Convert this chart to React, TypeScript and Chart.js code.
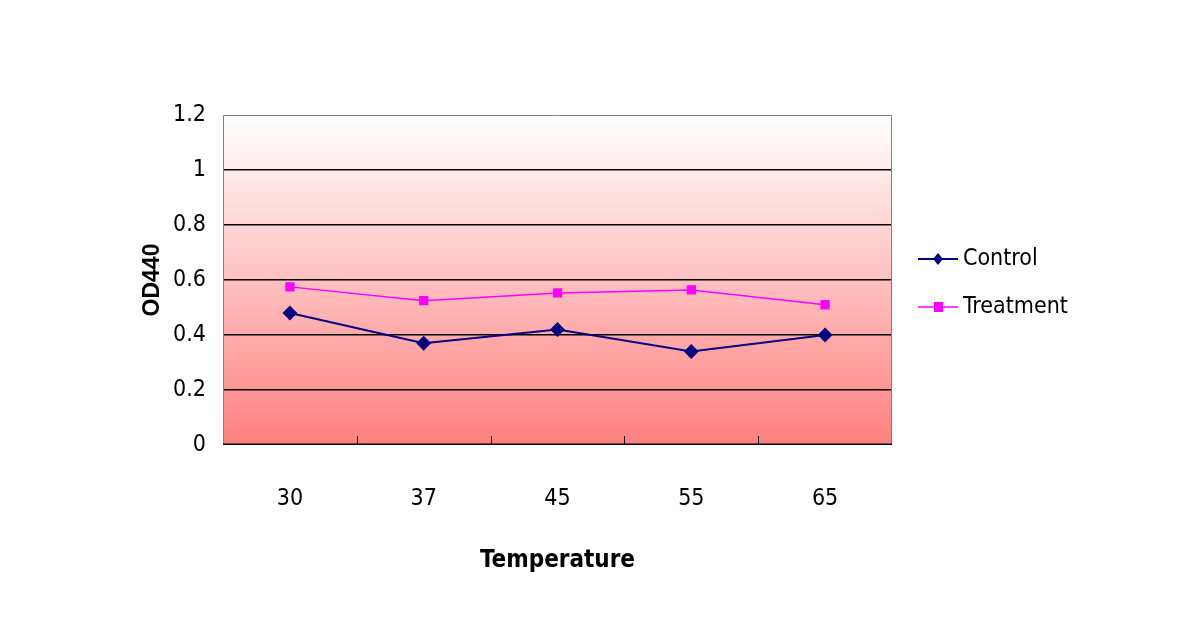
import React, { useEffect, useRef } from "react";
import { Chart, registerables } from "chart.js";

Chart.register(...registerables);

const categories = ["30", "37", "45", "55", "65"];
const controlValues = [0.48, 0.37, 0.42, 0.34, 0.4];
const treatmentValues = [0.575, 0.525, 0.553, 0.564, 0.51];
const yTicks = [0, 0.2, 0.4, 0.6, 0.8, 1, 1.2];
const seriesNames = ["Control", "Treatment"];
const xTitle = "Temperature";
const yTitle = "OD440";

const NARROW = "'Liberation Sans Narrow', 'DejaVu Sans Condensed', 'Liberation Sans', sans-serif";
const SANS = "'Liberation Sans', Arial, sans-serif";

const bgPlugin = {
  id: "bgGradient",
  beforeDraw(chart: any) {
    const { ctx, chartArea } = chart;
    const { left, top, right, bottom } = chartArea;
    ctx.save();
    const g = ctx.createLinearGradient(0, top, 0, bottom);
    g.addColorStop(0, "#ffffff");
    g.addColorStop(1, "#ff8080");
    ctx.fillStyle = g;
    ctx.fillRect(left, top, right - left, bottom - top);
    ctx.restore();
  },
};

const framePlugin = {
  id: "frame",
  beforeDatasetsDraw(chart: any) {
    const { ctx, chartArea, scales } = chart;
    const { left, top, right, bottom } = chartArea;
    ctx.save();
    ctx.strokeStyle = "#808080";
    ctx.lineWidth = 1;
    ctx.beginPath();
    ctx.moveTo(left + 0.5, bottom);
    ctx.lineTo(left + 0.5, top + 0.5);
    ctx.lineTo(right - 0.5, top + 0.5);
    ctx.lineTo(right - 0.5, bottom);
    ctx.stroke();
    ctx.strokeStyle = "#000000";
    ctx.lineWidth = 1.5;
    ctx.beginPath();
    ctx.moveTo(left, bottom - 0.75);
    ctx.lineTo(right, bottom - 0.75);
    ctx.stroke();
    ctx.lineWidth = 1;
    const xs = scales.x;
    for (let i = 1; i < categories.length; i++) {
      const px = Math.round((xs.getPixelForValue(i - 1) + xs.getPixelForValue(i)) / 2) + 0.5;
      ctx.beginPath();
      ctx.moveTo(px, bottom);
      ctx.lineTo(px, bottom - 9);
      ctx.stroke();
    }
    ctx.restore();
  },
};

function makeLegendIcon(color: string, style: string) {
  const c = document.createElement("canvas");
  c.width = 40;
  c.height = 16;
  const g = c.getContext("2d")!;
  g.strokeStyle = color;
  g.lineWidth = style === "diamond" ? 2 : 1.5;
  g.beginPath();
  g.moveTo(0, 8);
  g.lineTo(40, 8);
  g.stroke();
  g.fillStyle = color;
  if (style === "diamond") {
    g.beginPath();
    g.moveTo(20, 2);
    g.lineTo(25, 8);
    g.lineTo(20, 14);
    g.lineTo(15, 8);
    g.closePath();
    g.fill();
  } else {
    g.fillRect(16, 3, 9, 10);
  }
  return c;
}

const legendPlugin = {
  id: "sideLegend",
  afterDraw(chart: any) {
    const { ctx } = chart;
    const items = [
      { label: seriesNames[0], color: "#000080", style: "diamond", y: 259 },
      { label: seriesNames[1], color: "#ff00ff", style: "square", y: 307 },
    ];
    ctx.save();
    ctx.font = `23px ${NARROW}`;
    ctx.fillStyle = "#000000";
    ctx.textBaseline = "middle";
    items.forEach((it) => {
      const icon = makeLegendIcon(it.color, it.style);
      ctx.drawImage(icon, 918, it.y - 8);
      ctx.fillText(it.label, 963, it.y);
    });
    ctx.restore();
  },
};

export default function App() {
  const ref = useRef<HTMLCanvasElement | null>(null);

  useEffect(() => {
    document.body.style.margin = "0";
    if (!ref.current) return;
    const chart = new Chart(ref.current, {
      type: "line",
      data: {
        labels: categories,
        datasets: [
          {
            label: seriesNames[0],
            data: controlValues,
            borderColor: "#000080",
            backgroundColor: "#000080",
            borderWidth: 2,
            pointStyle: "rectRot",
            pointRadius: 6,
            pointHoverRadius: 6,
            tension: 0,
          },
          {
            label: seriesNames[1],
            data: treatmentValues,
            borderColor: "#ff00ff",
            backgroundColor: "#ff00ff",
            borderWidth: 1.5,
            pointStyle: "rect",
            pointRadius: 5.5,
            pointHoverRadius: 5.5,
            tension: 0,
          },
        ],
      },
      options: {
        animation: false,
        responsive: false,
        maintainAspectRatio: false,
        layout: { padding: { left: 0, top: 115, right: 298, bottom: 0 } },
        plugins: {
          legend: { display: false },
          tooltip: { enabled: false },
        },
        scales: {
          x: {
            type: "category",
            offset: true,
            grid: { display: false, drawTicks: false },
            border: { display: false },
            ticks: {
              color: "#000",
              font: { family: NARROW, size: 23 },
              padding: 40,
              maxRotation: 0,
            },
            title: {
              display: true,
              text: xTitle,
              color: "#000",
              font: { family: NARROW, size: 24, weight: "bold" },
              padding: { top: 0, bottom: 50 },
            },
            afterFit(scale: any) {
              scale.height = 180;
            },
          },
          y: {
            min: 0,
            max: 1.2,
            afterBuildTicks(scale: any) {
              scale.ticks = yTicks.map((v) => ({ value: v }));
            },
            grid: {
              color: (ctx: any) =>
                ctx.tick && (ctx.tick.value === 0 || ctx.tick.value === 1.2) ? "rgba(0,0,0,0)" : "#000000",
              lineWidth: 1.5,
              drawTicks: false,
            },
            border: { display: false },
            ticks: {
              color: "#000",
              font: { family: NARROW, size: 23 },
              padding: 17,
              callback: (v: any) => String(Math.round(Number(v) * 10) / 10),
            },
            title: {
              display: true,
              text: yTitle,
              color: "#000",
              font: { family: SANS, size: 23, weight: "bold" },
              padding: { top: 139, bottom: 0 },
            },
            afterFit(scale: any) {
              scale.width = 223;
            },
          },
        },
      },
      plugins: [bgPlugin, framePlugin, legendPlugin],
    });
    return () => chart.destroy();
  }, []);

  return (
    <div style={{ width: 1190, height: 625, background: "#fff" }}>
      <canvas ref={ref} width={1190} height={625} style={{ display: "block" }} />
    </div>
  );
}
